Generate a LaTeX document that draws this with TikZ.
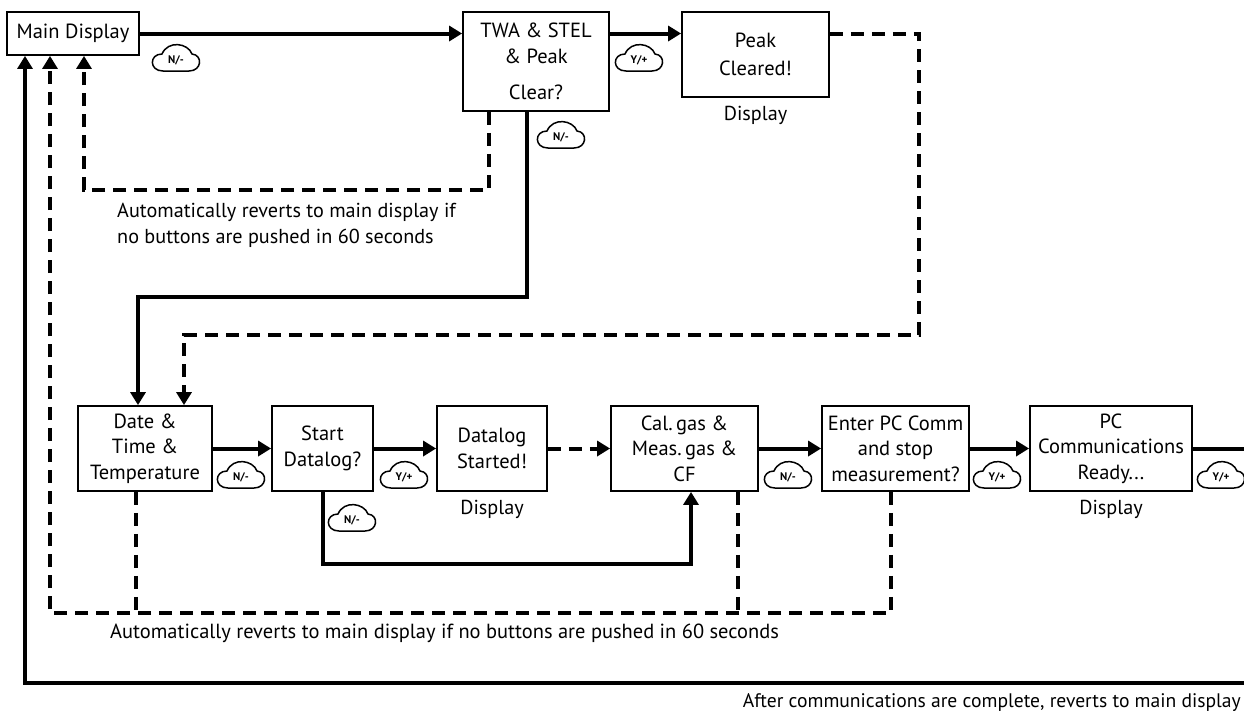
\documentclass[tikz,border=0pt]{standalone}
\usepackage{fontspec}
\setmainfont{PT Sans}
\usetikzlibrary{arrows.meta, positioning}

\newcommand{\boxfont}{\fontsize{20.5}{25.5}\selectfont}
\newcommand{\notefont}{\fontsize{20.2}{25.5}\selectfont}
\newcommand{\keyfont}{\fontsize{11}{11}\selectfont\bfseries}

% key label: name, position, text
\newcommand{\keycloud}[3]{%
  \begin{scope}[shift={(#2)}]
    \draw[keyline] (-13,11) -- (13,11) .. controls (26,11) and (27,-5) .. (16,-6)
      .. controls (12,-17) and (-8,-20) .. (-14,-6)
      .. controls (-27,-6) and (-27,11) .. (-13,11) -- cycle;
    \node[keytext] (#1) at (0,0) {#3};
  \end{scope}}

\begin{document}
\begin{tikzpicture}[x=1pt, y=-1pt, >={Triangle[length=13pt,width=15pt]}]
    % Define the styles
    \tikzstyle{box} = [draw, line width=1.8pt, align=center, inner sep=2pt, font=\boxfont, minimum height=85]
    \tikzstyle{flow} = [draw, line width=4pt]
    \tikzstyle{dashline} = [draw, line width=4pt, dash pattern=on 13pt off 8pt]
    \tikzstyle{note} = [inner sep=0pt, font=\notefont, align=left]
    \tikzstyle{keyline} = [line width=1.5pt]
    \tikzstyle{keytext} = [inner sep=0pt, font=\keyfont]

    \fill[white] (0,0) rectangle (1244,713);
    \useasboundingbox (0,0) rectangle (1244,713);

    % Place the nodes
    \node [box, minimum width=132, minimum height=43] (main) at (73,33.5) {Main Display};
    \node [box, minimum width=146, minimum height=99] (twa) at (536,61.5) {TWA \& STEL\\ \& Peak\\[11pt] Clear?};
    \node [box, minimum width=147] (peak) at (755.5,54.5) {Peak\\[2pt] Cleared!};
    \node [box, minimum width=134] (date) at (145,448.5) {Date \&\\ Time \&\\ Temperature};
    \node [box, minimum width=101] (start) at (322.5,448.5) {Start\\ Datalog?};
    \node [box, minimum width=110] (dlog) at (492,448.5) {Datalog\\ Started!};
    \node [box, minimum width=147] (cal) at (684.5,448.5) {Cal.\,gas \&\\ Meas.\,gas \&\\ CF};
    \node [box, minimum width=147] (enter) at (895.5,448.5) {Enter PC Comm\\ and stop\\ measurement?};
    \node [box, minimum width=162] (pccomm) at (1111,448.5) {PC\\ Communications\\ Ready...};

    \node [note, below=8pt of peak] (peakshow) {Display};
    \node [note, below=8pt of dlog] (dlogshow) {Display};
    \node [note, below=8pt of pccomm] (pcshow) {Display};

    \node [note, anchor=north west] (autotop) at (117,203) {Automatically reverts to main display if\\ no buttons are pushed in 60 seconds};
    \node [note, font=\fontsize{20.45}{25}\selectfont, anchor=west] (autobot) at (110,633) {Automatically reverts to main display if no buttons are pushed in 60 seconds};
    \node [note, font=\fontsize{19.6}{25}\selectfont, anchor=east] (afterpc) at (1241,703) {After communications are complete, reverts to main display};

    % Button keys
    \keycloud{k1}{176,60}{N/-}
    \keycloud{k2}{639,60}{Y/+}
    \keycloud{k3}{561,137}{N/-}
    \keycloud{k4}{241,477}{N/-}
    \keycloud{k5}{404,477}{Y/+}
    \keycloud{k6}{352,520}{N/-}
    \keycloud{k7}{788,477}{N/-}
    \keycloud{k8}{997,477}{Y/+}
    \keycloud{k9}{1221,477}{Y/+}

    % Corner points
    \coordinate (pkA) at (919,33.5);
    \coordinate (pkB) at (919,335);
    \coordinate (pkC) at (184,335);
    \coordinate (twA) at (527,297);
    \coordinate (twB) at (138,297);
    \coordinate (tdA) at (489,190);
    \coordinate (tdB) at (84,190);
    \coordinate (stA) at (322.5,564);
    \coordinate (stB) at (691,564);
    \coordinate (rtA) at (1262,448.5);
    \coordinate (rtB) at (1262,683);
    \coordinate (rtC) at (25,683);
    \coordinate (bdA) at (136,613);
    \coordinate (bdB) at (738,613);
    \coordinate (bdC) at (891,613);
    \coordinate (bdD) at (50,613);

    % Connect the nodes with paths
    \draw [flow, ->] (main.east) -- (main.east -| twa.west);
    \draw [flow, ->] (main.east -| twa.east) -- (main.east -| peak.west);
    \draw [dashline, ->] (main.east -| peak.east) -- (pkA) -- (pkB) -- (pkC) -- (pkC |- date.north);
    \draw [flow, ->] (twA |- twa.south) -- (twA) -- (twB) -- (twB |- date.north);
    \draw [dashline, ->] (tdA |- twa.south) -- (tdA) -- (tdB) -- (tdB |- main.south);

    \draw [flow, ->] (date) -- (start);
    \draw [flow, ->] (start) -- (dlog);
    \draw [dashline, ->] (dlog) -- (cal);
    \draw [flow, ->] (cal) -- (enter);
    \draw [flow, ->] (enter) -- (pccomm);
    \draw [flow, ->] (start.south) -- (stA) -- (stB) -- (stB |- cal.south);
    \draw [flow, ->] (pccomm.east) -- (rtA) -- (rtB) -- (rtC) -- (rtC |- main.south);

    \draw [dashline] (bdA |- date.south) -- (bdA);
    \draw [dashline] (bdB |- cal.south) -- (bdB);
    \draw [dashline, ->] (bdC |- enter.south) -- (bdC) -- (bdD) -- (bdD |- main.south);
\end{tikzpicture}
\end{document}
